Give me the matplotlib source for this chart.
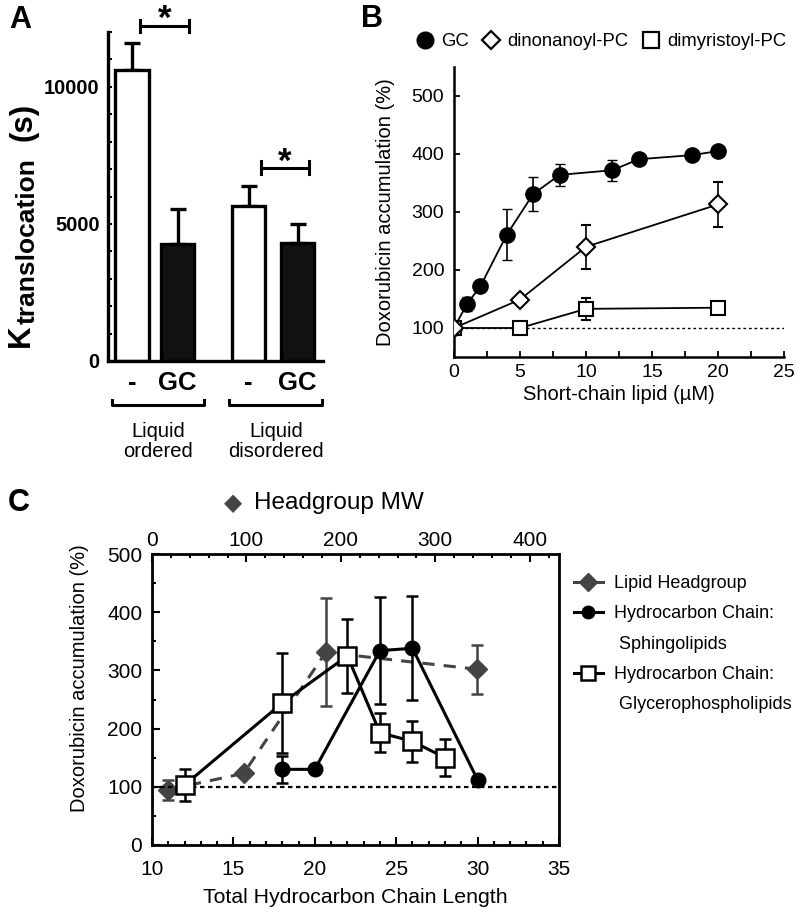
import matplotlib
matplotlib.use("Agg")
import matplotlib.pyplot as plt
import numpy as np
from matplotlib.lines import Line2D
from matplotlib.ticker import MultipleLocator

plt.rcParams["font.family"] = ["Liberation Sans", "DejaVu Sans"]

# panel A: translocation constant
a_labels = ["-", "GC", "-", "GC"]
a_vals = [10600, 4250, 5640, 4290]
a_err = [1000, 1310, 760, 690]
a_groups = ["Liquid\nordered", "Liquid\ndisordered"]

# panel B: short-chain lipid titration
b_gc_x = [0, 1, 2, 4, 6, 8, 12, 14, 18, 20]
b_gc_y = [100, 142, 172, 261, 331, 364, 372, 391, 398, 405]
b_gc_err = [0, 12, 0, 44, 29, 19, 18, 0, 0, 0]
b_c9_x = [0, 5, 10, 20]
b_c9_y = [100, 149, 240, 313]
b_c9_err = [0, 0, 38, 39]
b_c14_x = [0, 5, 10, 20]
b_c14_y = [100, 100, 133, 135]
b_c14_err = [0, 0, 19, 0]

# panel C: chain length / headgroup
c_head_mw = [17, 97, 184, 344]
c_head_y = [95, 123, 331, 302]
c_head_err = [17, 0, 93, 42]
c_sph_x = [18, 20, 24, 26, 30]
c_sph_y = [130, 130, 334, 338, 112]
c_sph_err = [23, 0, 92, 89, 0]
c_gly_x = [12, 18, 22, 24, 26, 28]
c_gly_y = [103, 244, 325, 193, 178, 150]
c_gly_err = [27, 86, 63, 34, 35, 32]

W, H = 797, 917
fig = plt.figure(figsize=(W / 100, H / 100), dpi=100)

def fx(px):
    return px / W

def fy(py):
    return 1 - py / H

# ---------------- A ----------------
axA = fig.add_axes([fx(108), fy(361), fx(323) - fx(108), fy(32) - fy(361)])
pos = np.array([0, 1, 2.56, 3.64])
axA.bar(pos, a_vals, width=0.74, color=["white", "#111111", "white", "#111111"],
        edgecolor="black", linewidth=2.4, zorder=2)
axA.errorbar(pos, a_vals, yerr=[np.zeros(4), a_err], fmt="none", ecolor="black",
             elinewidth=2.4, capsize=6, capthick=2.4, zorder=1)
axA.set_xlim(-0.533, 4.2)
axA.set_ylim(0, 12000)
axA.spines["top"].set_visible(False)
axA.spines["right"].set_visible(False)
axA.spines["left"].set_linewidth(2.4)
axA.spines["bottom"].set_linewidth(2.4)
axA.set_yticks([0, 5000, 10000])
axA.yaxis.set_minor_locator(MultipleLocator(1000))
axA.tick_params(axis="y", which="both", direction="in", length=3, width=1.5, labelsize=14.5, pad=6)
for t in axA.get_yticklabels():
    t.set_fontweight("bold")
axA.set_xticks(pos)
axA.set_xticklabels(a_labels, fontsize=18.5, fontweight="bold")
axA.tick_params(axis="x", length=0, pad=7)

# y label built from pieces so the subscript keeps its large size
fig.text(fx(36), fy(347), "K", rotation=90, ha="right", va="bottom", fontsize=22.5,
         fontweight="bold")
fig.text(fx(40), fy(324), "translocation", rotation=90, ha="right", va="bottom",
         fontsize=19, fontweight="bold")
fig.text(fx(38), fy(103), "(s)", rotation=90, ha="right", va="top", fontsize=22.5,
         fontweight="bold")

tr = axA.get_xaxis_transform()
for x0, x1, xc, txt in [(-0.444, 1.578, 0.578, a_groups[0]), (2.133, 4.18, 3.16, a_groups[1])]:
    axA.plot([x0, x0, x1, x1], [-0.118, -0.134, -0.134, -0.118], color="black", lw=2.2,
             transform=tr, clip_on=False)
    axA.text(xc, -0.245, txt, transform=tr, ha="center", va="center", fontsize=14.5,
             linespacing=1.05)

for x0, x1, yb, ys in [(0.18, 1.24, 12220, 12450), (2.84, 3.89, 7055, 7250)]:
    axA.plot([x0, x1], [yb, yb], color="black", lw=2.2, clip_on=False)
    axA.plot([x0, x0], [yb - 230, yb + 230], color="black", lw=2.2, clip_on=False)
    axA.plot([x1, x1], [yb - 230, yb + 230], color="black", lw=2.2, clip_on=False)
    axA.text((x0 + x1) / 2, ys, "*", ha="center", va="center", fontsize=25,
             fontweight="bold", clip_on=False)

fig.text(fx(9), fy(20), "A", fontsize=22, fontweight="bold", va="center", ha="left")

# ---------------- B ----------------
axB = fig.add_axes([fx(454), fy(357), fx(784) - fx(454), fy(67) - fy(357)])
axB.axhline(100, color="black", lw=1.0, ls=(0, (2, 2)), zorder=1)
axB.errorbar(b_c14_x, b_c14_y, yerr=b_c14_err, fmt="-s", color="black", mfc="white",
             mec="black", ms=9.5, mew=1.5, lw=1.3, capsize=3.5, elinewidth=1.2, zorder=3)
axB.errorbar(b_c9_x, b_c9_y, yerr=b_c9_err, fmt="-D", color="black", mfc="white",
             mec="black", ms=9, mew=1.5, lw=1.3, capsize=3.5, elinewidth=1.2, zorder=4)
axB.errorbar(b_gc_x, b_gc_y, yerr=b_gc_err, fmt="-o", color="black", mfc="black",
             mec="black", ms=11, lw=1.3, capsize=3.5, elinewidth=1.2, zorder=2)
axB.set_xlim(0, 25)
axB.set_ylim(50, 550)
axB.spines["top"].set_visible(False)
axB.spines["right"].set_visible(False)
axB.spines["left"].set_linewidth(1.8)
axB.spines["bottom"].set_linewidth(1.8)
axB.set_xticks([0, 5, 10, 15, 20, 25])
axB.xaxis.set_minor_locator(MultipleLocator(2.5))
axB.set_yticks([100, 200, 300, 400, 500])
axB.tick_params(which="both", direction="in", length=4, width=1.3, labelsize=14)
axB.tick_params(axis="y", pad=7)
axB.tick_params(axis="x", pad=5)
axB.set_xlabel("Short-chain lipid (\u00b5M)", fontsize=14.5, labelpad=3)
axB.set_ylabel("Doxorubicin accumulation (%)", fontsize=14.5, labelpad=12)
b_handles = [
    Line2D([], [], ls="none", marker="o", ms=12, mfc="black", mec="black"),
    Line2D([], [], ls="none", marker="D", ms=9.5, mfc="white", mec="black", mew=1.6),
    Line2D([], [], ls="none", marker="s", ms=11, mfc="white", mec="black", mew=1.6),
]
fig.legend(b_handles, ["GC", "dinonanoyl-PC", "dimyristoyl-PC"], loc="center",
           bbox_to_anchor=(fx(601), fy(42)), ncol=3, frameon=False, fontsize=13.3,
           handlelength=1.0, handletextpad=0.4, columnspacing=0.7)
fig.text(fx(361), fy(19), "B", fontsize=22, fontweight="bold", va="center", ha="left")

# ---------------- C ----------------
axC = fig.add_axes([fx(152), fy(845), fx(559) - fx(152), fy(554) - fy(845)])
axC.axhline(100, color="black", lw=1.6, ls=(0, (2, 1.6)), zorder=1)
axC.errorbar(c_sph_x, c_sph_y, yerr=c_sph_err, fmt="-o", color="black", ms=10.5,
             lw=2.2, capsize=4.5, elinewidth=1.8, capthick=1.8, zorder=3)
axC.errorbar(c_gly_x, c_gly_y, yerr=c_gly_err, fmt="-s", color="black", mfc="white",
             mec="black", ms=13, mew=1.8, lw=2.2, capsize=4.5, elinewidth=1.8,
             capthick=1.8, zorder=4)
axC.set_xlim(10, 35)
axC.set_ylim(0, 500)
for s in axC.spines.values():
    s.set_linewidth(2.0)
axC.set_xticks([10, 15, 20, 25, 30, 35])
axC.xaxis.set_minor_locator(MultipleLocator(1))
axC.yaxis.set_minor_locator(MultipleLocator(50))
axC.tick_params(which="both", direction="in", labelsize=15, width=1.5)
axC.tick_params(which="major", length=6)
axC.tick_params(which="minor", length=3)
axC.tick_params(axis="x", pad=11)
axC.tick_params(axis="y", pad=7)
axC.set_xlabel("Total Hydrocarbon Chain Length", fontsize=15.3)
axC.xaxis.set_label_coords(0.5, -0.148)
axC.set_ylabel("Doxorubicin accumulation (%)", fontsize=14.5)
axC.yaxis.set_label_coords(-0.155, 0.574)

axT = axC.twiny()
axT.errorbar(c_head_mw, c_head_y, yerr=c_head_err, fmt="D", ls=(0, (4, 3)), color="#444444",
             ms=10, lw=2.2, capsize=4.5, elinewidth=1.8, capthick=1.8, zorder=2)
axT.set_xlim(0, 431)
axT.set_xticks([0, 100, 200, 300, 400])
axT.xaxis.set_minor_locator(MultipleLocator(20))
axT.tick_params(which="both", direction="in", labelsize=15, width=1.5, pad=3)
axT.tick_params(which="major", length=6)
axT.tick_params(which="minor", length=3)
axC.set_zorder(2)
axC.patch.set_visible(False)
axT.set_zorder(1)

fig.text(fx(233), fy(503), "\u25c6", fontsize=17, color="#444444", ha="center", va="center",
         family=["DejaVu Sans"])
fig.text(fx(254), fy(503), "Headgroup MW", fontsize=17.5, ha="left", va="center")
fig.text(fx(8), fy(503), "C", fontsize=22, fontweight="bold", va="center", ha="left")

c_handles = [
    Line2D([], [], color="#444444", marker="D", ms=9, lw=2.2),
    Line2D([], [], color="black", marker="o", ms=9, lw=2.2),
    Line2D([], [], ls="none"),
    Line2D([], [], color="black", marker="s", ms=10, mfc="white", mew=1.8, lw=2.2),
    Line2D([], [], ls="none"),
]
c_labels = ["Lipid Headgroup", "Hydrocarbon Chain:", " Sphingolipids",
            "Hydrocarbon Chain:", " Glycerophospholipids"]
fig.legend(c_handles, c_labels, loc="upper left", bbox_to_anchor=(fx(565), fy(566)),
           frameon=False, fontsize=13, handlelength=1.6, handletextpad=0.6,
           labelspacing=0.74, borderpad=0)

fig.savefig("out.png", dpi=100)
